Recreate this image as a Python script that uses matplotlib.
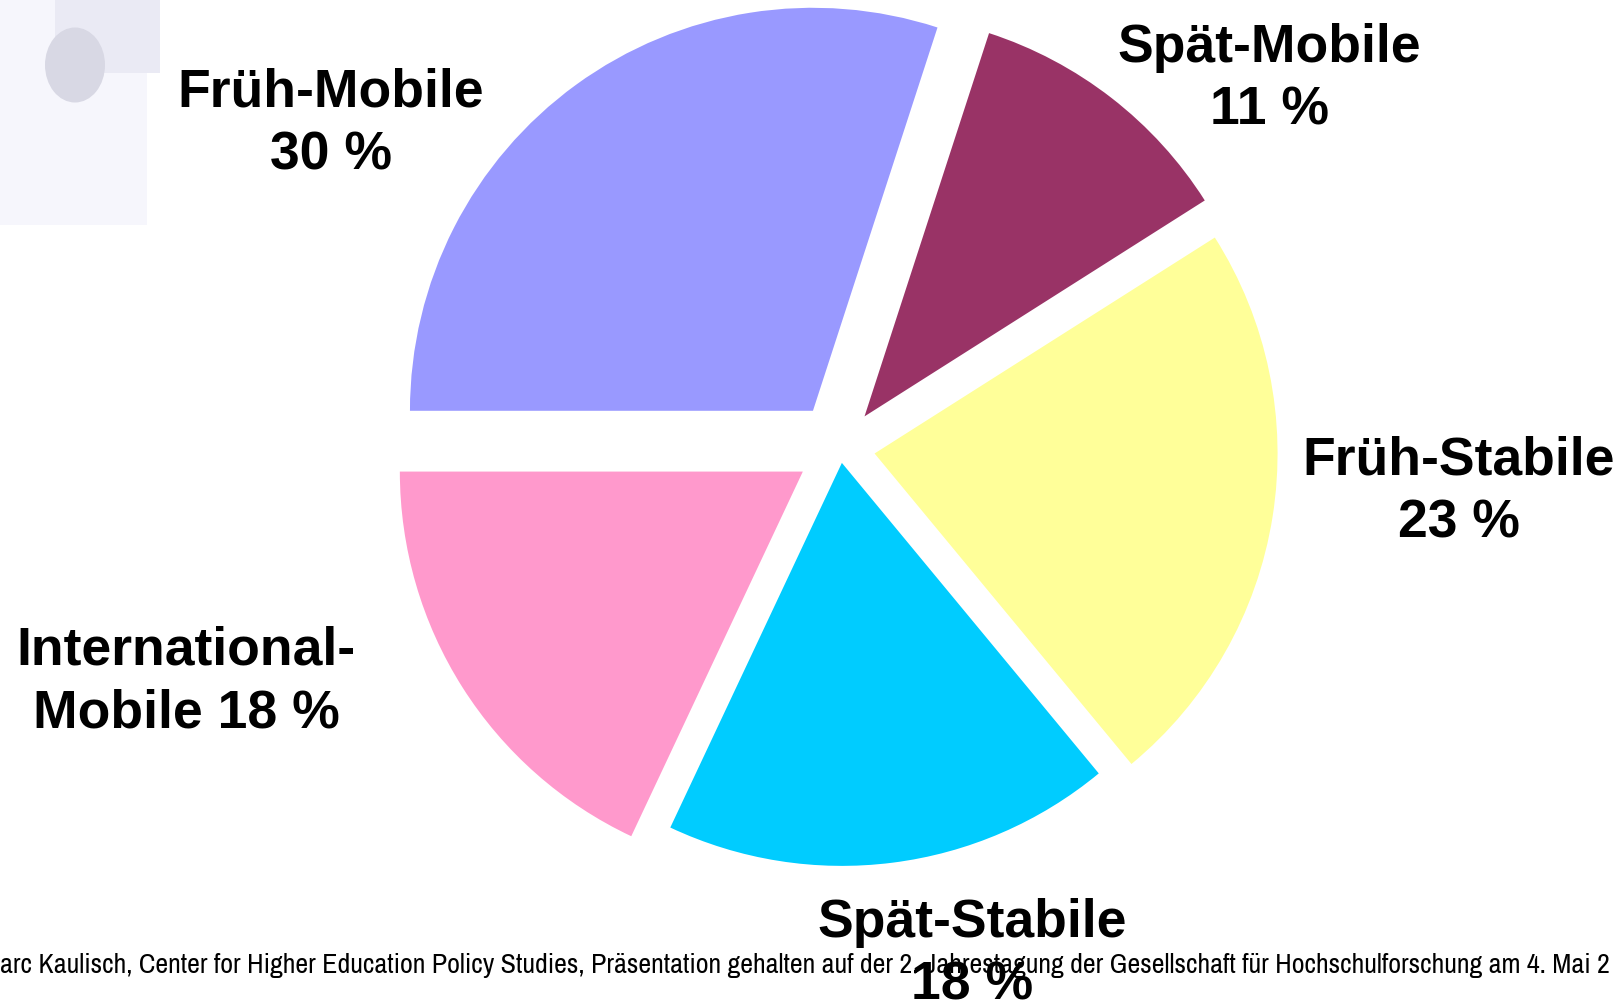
import matplotlib.pyplot as plt
from matplotlib.patches import Rectangle, Ellipse

# data
labels = ["Spät-Mobile", "Früh-Stabile", "Spät-Stabile", "International-Mobile", "Früh-Mobile"]
shares = [11, 23, 18, 18, 30]
colors = ["#993366", "#FFFF99", "#00CCFF", "#FF99CC", "#9999FF"]
label_texts = ["Spät-Mobile\n11 %", "Früh-Stabile\n23 %", "Spät-Stabile\n18 %",
               "International-\nMobile 18 %", "Früh-Mobile\n30 %"]
label_pos = [(1269, 923), (1459, 510), (972, 48), (186, 320), (331, 878)]
footer = ("arc Kaulisch, Center for Higher Education Policy Studies, Präsentation gehalten "
          "auf der 2. Jahrestagung der Gesellschaft für Hochschulforschung am 4. Mai 2")


def main():
	fig = plt.figure(figsize=(16.22, 10.02), dpi=100)
	ax = fig.add_axes([0, 0, 1, 1])

	# faded map decoration in the top-left corner
	ax.add_patch(Rectangle((0, 1002 - 225), 147, 225, facecolor="#f6f6fc", edgecolor="none"))
	ax.add_patch(Rectangle((55, 1002 - 73), 105, 73, facecolor="#eaeaf4", edgecolor="none"))
	ax.add_patch(Ellipse((75, 1002 - 65), 60, 75, facecolor="#d8d8e4", edgecolor="none"))

	# explode is in data units here (pixels), slices are pulled out unevenly
	ax.pie(shares, colors=colors, explode=[40, 35, 15, 44, 46], startangle=72,
	       counterclock=False, center=(840, 554), radius=403,
	       wedgeprops=dict(linewidth=0))

	for txt, (x, y) in zip(label_texts, label_pos):
		ax.text(x, y, txt, ha="center", va="center", fontsize=38.5, fontweight="bold",
		        family=["Liberation Sans", "DejaVu Sans"], linespacing=1.33, zorder=5)

	ax.text(0, 1002 - 965, footer, ha="left", va="center", fontsize=20.2,
	        family=["Archivo Narrow", "Liberation Sans", "DejaVu Sans"], zorder=4)

	ax.set_xlim(0, 1622)
	ax.set_ylim(0, 1002)
	ax.set_aspect("auto")
	ax.axis("off")
	fig.savefig("out.png", dpi=100)


if __name__ == "__main__":
	main()
